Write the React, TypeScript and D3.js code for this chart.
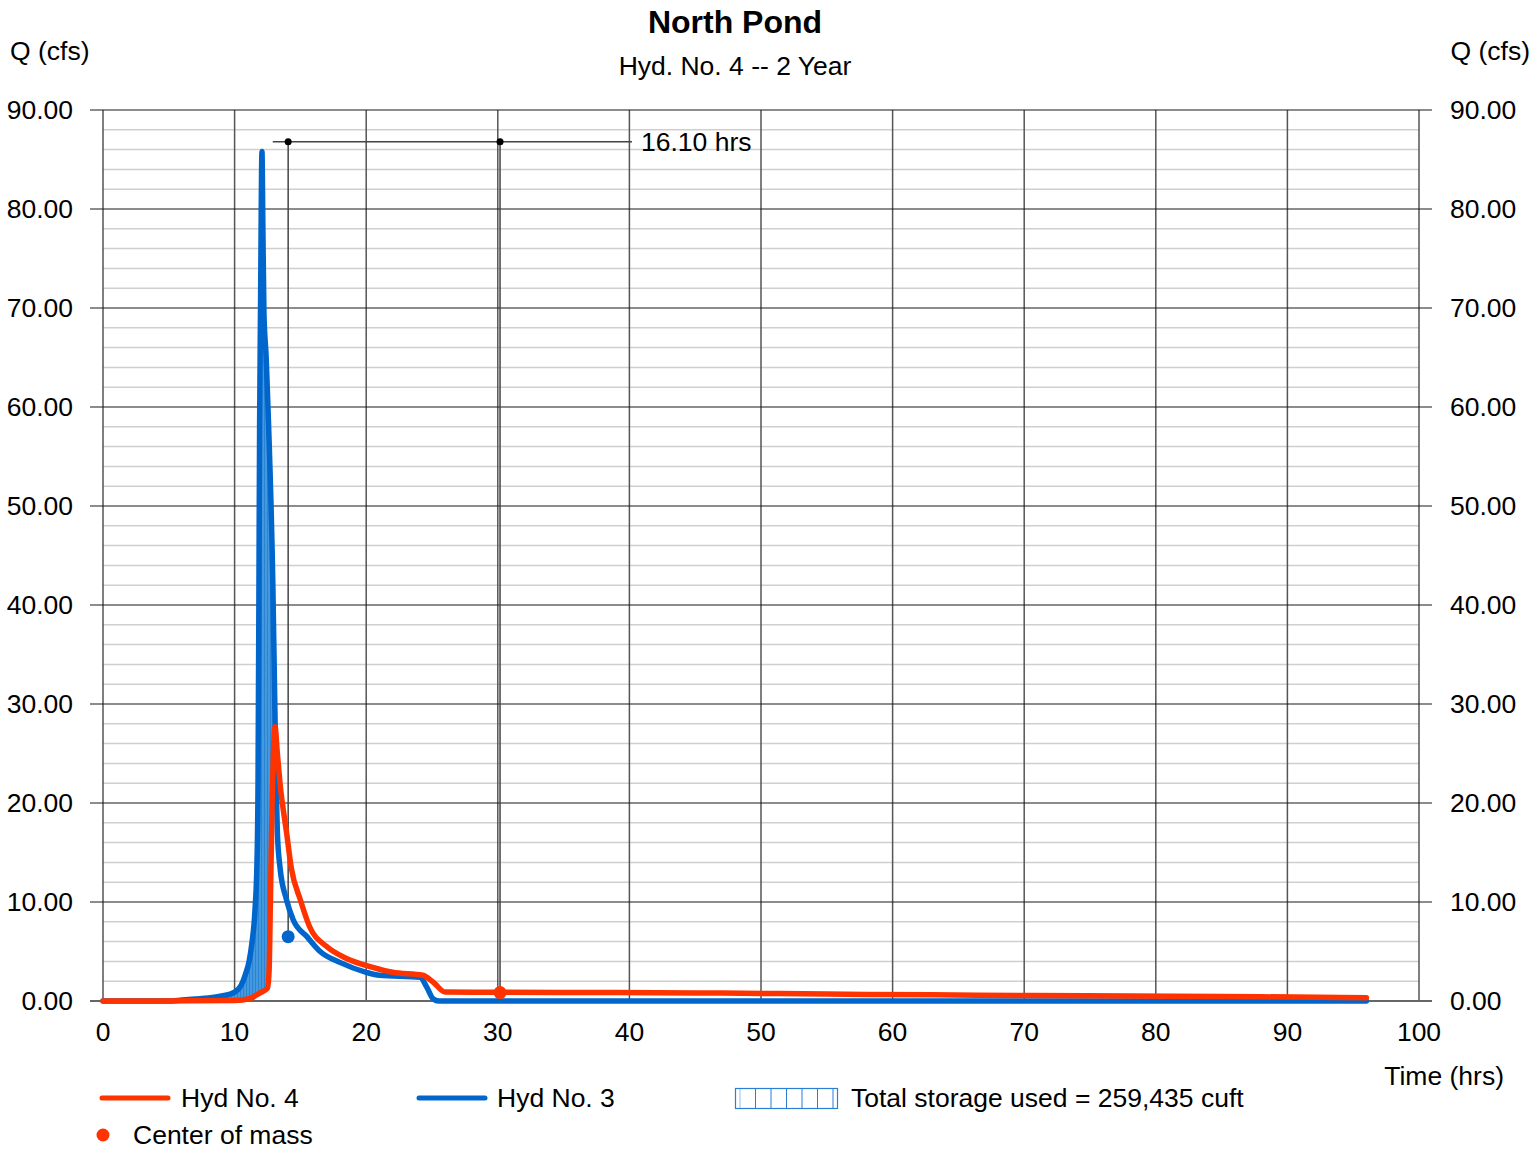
import React from "react";
import * as d3 from "d3";

// ---- Data ----
const xTicks = [0, 10, 20, 30, 40, 50, 60, 70, 80, 90, 100];
const yTicks = [0, 10, 20, 30, 40, 50, 60, 70, 80, 90];
const yMinor = d3.range(0, 91, 2);

// Hyd No. 3 (inflow)
const hyd3T = [0, 5, 6, 7, 8, 9, 10, 10.5, 10.8, 11.1, 11.3, 11.55, 11.7, 11.78, 11.85, 11.9, 11.97, 12.08, 12.15, 12.23, 12.4, 12.57, 12.9, 13.05, 13.15, 13.25, 13.45, 13.95, 14.45, 15.5, 16.5, 18, 20, 21, 24.1, 24.6, 25.1, 25.5, 40, 60, 80, 96];
const hyd3Q = [0, 0, 0.1, 0.2, 0.3, 0.5, 0.9, 1.6, 2.6, 4.0, 5.7, 9.2, 14, 22, 42, 58, 70, 85.8, 78, 69.5, 65, 58.7, 42.5, 30.4, 22.3, 17, 13.5, 10.2, 8.2, 6.5, 5.0, 3.9, 2.9, 2.6, 2.4, 1.4, 0.2, 0, 0, 0, 0, 0];

// Hyd No. 4 (outflow)
const hyd4T = [0, 10, 11.2, 11.9, 12.5, 12.62, 12.72, 12.85, 12.95, 13.07, 13.25, 13.45, 13.95, 14.3, 15, 15.7, 17, 18.5, 20.5, 22, 24.3, 25.1, 26, 30, 39, 47, 55, 63, 70.7, 78, 85, 92.3, 96];
const hyd4Q = [0, 0.05, 0.27, 0.8, 1.3, 3, 10, 20, 25, 27.7, 25, 22, 17, 13.5, 10.2, 7.5, 5.5, 4.3, 3.4, 2.9, 2.6, 1.9, 0.9, 0.88, 0.85, 0.8, 0.7, 0.62, 0.55, 0.5, 0.45, 0.38, 0.33];

// Center of mass
const cmT = [14.07, 30.17];
const cmQ = [6.5, 0.85];
const cmLabel = "16.10 hrs";
const cmBarQ = 86.8;
const cmBarRange = [12.9, 40.2];
const storageEndT = 13.07;

const RED = "#ff3300";
const BLUE = "#0066cc";
const FONT = "'Liberation Sans', Arial, Helvetica, sans-serif";

export default function App() {
  const x = d3.scaleLinear().domain([0, 100]).range([103, 1419]);
  const y = d3.scaleLinear().domain([0, 90]).range([1001, 110]);

  const hyd3 = hyd3T.map((t, i) => [t, hyd3Q[i]] as [number, number]);
  const hyd4 = hyd4T.map((t, i) => [t, hyd4Q[i]] as [number, number]);

  const line = d3
    .line<[number, number]>()
    .x((d) => x(d[0]))
    .y((d) => y(d[1]))
    .curve(d3.curveMonotoneX);
  const polyLine = d3
    .line<[number, number]>()
    .x((d) => x(d[0]))
    .y((d) => y(d[1]));

  // storage polygon: inflow up to crossing, back along outflow
  const up = hyd3.filter((d) => d[0] >= 5 && d[0] < storageEndT);
  const down = hyd4.filter((d) => d[0] >= 5 && d[0] <= storageEndT).reverse();
  const storagePath = polyLine([...up, ...down]) + "Z";

  const fs = 26.5;

  return (
    <svg
      width={1536}
      height={1149}
      style={{ position: "absolute", left: 0, top: 0, background: "#fff" }}
      fontFamily={FONT}
    >
      <defs>
        <pattern id="stor" width={3} height={4} patternUnits="userSpaceOnUse">
          <rect width={3} height={4} fill="#4499de" />
          <line x1={0.5} x2={0.5} y1={0} y2={4} stroke="#2a84d2" strokeWidth={1} />
        </pattern>
      </defs>
      <rect width={1536} height={1149} fill="#fff" />

      {/* titles */}
      <text x={735} y={33} textAnchor="middle" fontSize={32} fontWeight="bold">North Pond</text>
      <text x={735} y={75} textAnchor="middle" fontSize={fs}>Hyd. No. 4 -- 2 Year</text>
      <text x={10} y={60} fontSize={fs}>Q (cfs)</text>
      <text x={1530} y={60} textAnchor="end" fontSize={fs}>Q (cfs)</text>

      {/* minor grid */}
      {yMinor.filter((v) => v % 10 !== 0).map((v) => (
        <line key={"m" + v} x1={x(0)} x2={x(100)} y1={y(v)} y2={y(v)} stroke="#cfcfcf" strokeWidth={1.5} />
      ))}
      {/* vertical grid */}
      {xTicks.map((t) => (
        <line key={"v" + t} x1={x(t)} x2={x(t)} y1={y(90)} y2={y(0)} stroke="#555" strokeWidth={1.5} />
      ))}
      {/* major horizontal grid + ticks */}
      {yTicks.map((v) => (
        <line key={"h" + v} x1={x(0) - 13} x2={x(100) + 13} y1={y(v)} y2={y(v)} stroke={v === 0 ? "#666" : "#1a1a1a"} strokeWidth={v === 0 ? 2 : 1.2} />
      ))}

      {/* y tick labels */}
      {yTicks.map((v) => (
        <text key={"yl" + v} x={73} y={y(v) + 9} textAnchor="end" fontSize={fs}>{v.toFixed(2)}</text>
      ))}
      {yTicks.map((v) => (
        <text key={"yr" + v} x={1450} y={y(v) + 9} textAnchor="start" fontSize={fs}>{v.toFixed(2)}</text>
      ))}
      {/* x tick labels */}
      {xTicks.map((t) => (
        <text key={"xl" + t} x={x(t)} y={1041} textAnchor="middle" fontSize={fs}>{t}</text>
      ))}
      <text x={1504} y={1085} textAnchor="end" fontSize={fs}>Time (hrs)</text>

      {/* storage fill */}
      <path d={storagePath} fill="url(#stor)" stroke="#3f94da" strokeWidth={2} strokeLinejoin="round" />

      {/* center of mass annotation */}
      {cmT.map((t, i) => (
        <line key={"cmv" + i} x1={x(t)} x2={x(t)} y1={y(cmBarQ)} y2={y(cmQ[i])} stroke="#444" strokeWidth={1.5} />
      ))}
      <line x1={x(cmBarRange[0])} x2={x(cmBarRange[1])} y1={y(cmBarQ)} y2={y(cmBarQ)} stroke="#444" strokeWidth={1.5} />
      {cmT.map((t, i) => (
        <circle key={"cmd" + i} cx={x(t)} cy={y(cmBarQ)} r={3.5} fill="#000" />
      ))}
      <text x={x(cmBarRange[1]) + 9} y={y(cmBarQ) + 9} fontSize={fs}>{cmLabel}</text>

      {/* hydrographs */}
      <path d={line(hyd3) || ""} fill="none" stroke={BLUE} strokeWidth={5.5} strokeLinecap="round" strokeLinejoin="round" />
      <path d={line(hyd4) || ""} fill="none" stroke={RED} strokeWidth={5.5} strokeLinecap="round" strokeLinejoin="round" />

      <circle cx={x(cmT[0])} cy={y(cmQ[0])} r={6.5} fill={BLUE} />
      <circle cx={x(cmT[1])} cy={y(cmQ[1])} r={6.5} fill={RED} />

      {/* legend */}
      <line x1={102} x2={168} y1={1098} y2={1098} stroke={RED} strokeWidth={5} strokeLinecap="round" />
      <text x={181} y={1107} fontSize={fs}>Hyd No. 4</text>
      <line x1={419} x2={485} y1={1098} y2={1098} stroke={BLUE} strokeWidth={5} strokeLinecap="round" />
      <text x={497} y={1107} fontSize={fs}>Hyd No. 3</text>
      <rect x={735.5} y={1088.5} width={102} height={20} fill="#fff" stroke="#2a7fd4" strokeWidth={1.2} />
      {d3.range(7).map((i) => (
        <line key={"lg" + i} x1={740 + i * 15.5} x2={740 + i * 15.5} y1={1089} y2={1108} stroke={i === 0 ? "#8cc0ee" : "#2a7fd4"} strokeWidth={1} />
      ))}
      <text x={851} y={1107} fontSize={fs}>Total storage used = 259,435 cuft</text>
      <circle cx={103} cy={1135} r={6.5} fill={RED} />
      <text x={133} y={1144} fontSize={fs}>Center of mass</text>
    </svg>
  );
}
